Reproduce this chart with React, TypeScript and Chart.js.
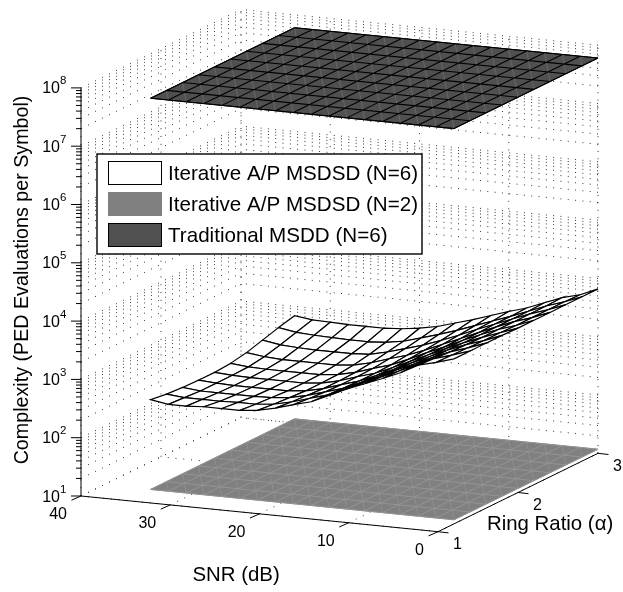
import React, { useEffect, useRef } from "react";
import { Chart, registerables } from "chart.js";

Chart.register(...registerables);

const snrValues = [0, 2, 4, 6, 8, 10, 12, 14, 16, 18, 20, 22, 24, 26, 28, 30, 32, 34];
const alphaValues = [1.2, 1.4, 1.6, 1.8, 2.0, 2.2, 2.4, 2.6, 2.8, 3.0];
const snrTicks = [0, 10, 20, 30, 40];
const alphaTicks = [1, 2, 3];
const decadeTicks = [1, 2, 3, 4, 5, 6, 7, 8];
const minorMultipliers = [2, 3, 4, 5, 6, 7, 8, 9];
const traditionalLog = 7.78;
const iterativeN2Log = 1.07;
// log10(PED evaluations per symbol), one row per ring ratio, one column per SNR
const iterativeN6Log = [
  [3.83, 3.74, 3.66, 3.5, 3.37, 3.25, 3.13, 2.99, 2.85, 2.77, 2.68, 2.61, 2.58, 2.58, 2.58, 2.56, 2.56, 2.61],
  [3.83, 3.73, 3.64, 3.5, 3.36, 3.23, 3.1, 2.96, 2.83, 2.74, 2.65, 2.58, 2.55, 2.55, 2.54, 2.54, 2.54, 2.57],
  [3.83, 3.72, 3.62, 3.49, 3.35, 3.22, 3.08, 2.94, 2.81, 2.72, 2.63, 2.56, 2.53, 2.52, 2.52, 2.52, 2.52, 2.55],
  [3.83, 3.71, 3.61, 3.49, 3.35, 3.21, 3.07, 2.93, 2.8, 2.71, 2.61, 2.54, 2.51, 2.51, 2.51, 2.51, 2.52, 2.54],
  [3.82, 3.71, 3.6, 3.48, 3.35, 3.21, 3.07, 2.93, 2.8, 2.71, 2.61, 2.54, 2.51, 2.51, 2.51, 2.51, 2.52, 2.54],
  [3.82, 3.7, 3.6, 3.48, 3.35, 3.21, 3.08, 2.94, 2.81, 2.72, 2.62, 2.55, 2.52, 2.52, 2.52, 2.52, 2.53, 2.56],
  [3.82, 3.7, 3.6, 3.48, 3.35, 3.22, 3.09, 2.96, 2.84, 2.75, 2.65, 2.58, 2.55, 2.55, 2.55, 2.55, 2.57, 2.61],
  [3.82, 3.7, 3.6, 3.48, 3.36, 3.24, 3.11, 2.99, 2.88, 2.79, 2.7, 2.63, 2.61, 2.61, 2.61, 2.62, 2.64, 2.69],
  [3.82, 3.7, 3.6, 3.48, 3.36, 3.25, 3.14, 3.03, 2.93, 2.84, 2.75, 2.7, 2.68, 2.68, 2.69, 2.7, 2.72, 2.77],
  [3.82, 3.69, 3.61, 3.49, 3.37, 3.28, 3.18, 3.08, 2.99, 2.9, 2.84, 2.8, 2.78, 2.78, 2.78, 2.79, 2.8, 2.84],
];
const legendLabels = ["Iterative A/P MSDSD (N=6)", "Iterative A/P MSDSD (N=2)", "Traditional MSDD (N=6)"];
const FONT = '"Liberation Sans", Arial, sans-serif';

type P = { x: number; y: number };
const GAP: P = { x: NaN, y: NaN };

// Orthographic view of the 3-D box (snr 40..0, alpha 1..3, log10 z 1..8)
const project = (snr: number, alpha: number, logZ: number): P => ({
  x: 81 + (40 - snr) * 8.925 + (alpha - 1) * 80,
  y: 496 + (40 - snr) * 0.8925 - (alpha - 1) * 39.2 - (logZ - 1) * 58.3,
});

const base = { showLine: true, pointRadius: 0, pointHoverRadius: 0, fill: false, tension: 0, spanGaps: false };
const lineSet = (label: string, data: P[], color: string, width: number, dash: number[] = []) => ({
  ...base, label, data, borderColor: color, borderWidth: width, borderDash: dash,
});
const polySet = (label: string, data: P[], fillColor: string, stroke: string, width: number) => ({
  ...base, label, data, fill: "shape", backgroundColor: fillColor, borderColor: stroke, borderWidth: width,
});

const allMinorLogs: number[] = [];
decadeTicks.forEach((d) => {
  allMinorLogs.push(d);
  if (d < 8) minorMultipliers.forEach((m) => allMinorLogs.push(d + Math.log10(m)));
});

function gridSets() {
  const left: P[] = [];
  const right: P[] = [];
  const floor: P[] = [];
  allMinorLogs.forEach((z) => {
    left.push(project(40, 1, z), project(40, 3, z), GAP);
    right.push(project(0, 3, z), project(40, 3, z), GAP);
  });
  alphaTicks.forEach((a) => {
    left.push(project(40, a, 1), project(40, a, 8), GAP);
    floor.push(project(0, a, 1), project(40, a, 1), GAP);
  });
  snrTicks.forEach((s) => {
    right.push(project(s, 3, 1), project(s, 3, 8), GAP);
    floor.push(project(s, 1, 1), project(s, 3, 1), GAP);
  });
  return [
    lineSet("wall snr=40", left, "#333", 1, [1, 6.8]),
    lineSet("wall alpha=3", right, "#333", 1, [1, 6.35]),
    lineSet("floor", floor, "#333", 1, [1, 6.8]),
  ];
}

function planeSets(label: string, logZ: number, fillColor: string, edge: string, meshColor: string, diagColor: string, meshWidth: number) {
  const n = snrValues.length - 1;
  const m = alphaValues.length - 1;
  const outline = [
    project(snrValues[0], alphaValues[0], logZ),
    project(snrValues[n], alphaValues[0], logZ),
    project(snrValues[n], alphaValues[m], logZ),
    project(snrValues[0], alphaValues[m], logZ),
    project(snrValues[0], alphaValues[0], logZ),
  ];
  const mesh: P[] = [];
  const diag: P[] = [];
  alphaValues.forEach((a) => mesh.push(project(snrValues[0], a, logZ), project(snrValues[n], a, logZ), GAP));
  snrValues.forEach((s) => mesh.push(project(s, alphaValues[0], logZ), project(s, alphaValues[m], logZ), GAP));
  for (let i = 0; i < n; i++) {
    for (let j = 0; j < m; j++) {
      diag.push(project(snrValues[i], alphaValues[j], logZ), project(snrValues[i + 1], alphaValues[j + 1], logZ), GAP);
    }
  }
  return [
    lineSet(label + " mesh", mesh, meshColor, meshWidth),
    lineSet(label + " seams", diag, diagColor, 1),
    polySet(label, outline, fillColor, edge, 1),
  ];
}

function surfaceSets() {
  const sets: any[] = [];
  for (let i = 0; i < snrValues.length - 1; i++) {
    for (let j = 0; j < alphaValues.length - 1; j++) {
      const cell = [
        project(snrValues[i], alphaValues[j], iterativeN6Log[j][i]),
        project(snrValues[i + 1], alphaValues[j], iterativeN6Log[j][i + 1]),
        project(snrValues[i + 1], alphaValues[j + 1], iterativeN6Log[j + 1][i + 1]),
        project(snrValues[i], alphaValues[j + 1], iterativeN6Log[j + 1][i]),
      ];
      cell.push(cell[0]);
      sets.push(polySet(legendLabels[0], cell, "#ffffff", "#000000", 1.2));
    }
  }
  return sets;
}

function axisSets() {
  const axes: P[] = [
    project(40, 1, 1), project(40, 1, 8), GAP,
    project(40, 1, 1), project(0, 1, 1), GAP,
    project(0, 1, 1), project(0, 3, 1), GAP,
  ];
  const addOffset = (p: P, dx: number, dy: number): P => ({ x: p.x + dx, y: p.y + dy });
  snrTicks.forEach((s) => {
    const p = project(s, 1, 1);
    axes.push(p, addOffset(p, -9.5, 4.2), GAP);
  });
  alphaTicks.forEach((a) => {
    const p = project(0, a, 1);
    axes.push(p, addOffset(p, 10.5, 1.2), GAP);
  });
  allMinorLogs.forEach((z) => {
    const p = project(40, 1, z);
    const major = Number.isInteger(z);
    axes.push(p, addOffset(p, major ? -10 : -5, 0), GAP);
  });
  return [lineSet("axes", axes, "#000", 1)];
}

const textPlugin = {
  id: "boxText",
  afterDatasetsDraw(chart: any) {
    const { ctx, scales } = chart;
    const px = (p: P) => ({ x: scales.x.getPixelForValue(p.x), y: scales.y.getPixelForValue(p.y) });
    ctx.save();
    ctx.fillStyle = "#000";
    ctx.textBaseline = "alphabetic";

    ctx.font = `16px ${FONT}`;
    ctx.textAlign = "right";
    snrTicks.forEach((s) => {
      const p = px(project(s, 1, 1));
      ctx.fillText(String(s), p.x - 14, p.y + 23);
    });
    ctx.textAlign = "left";
    alphaTicks.forEach((a) => {
      const p = px(project(0, a, 1));
      ctx.fillText(String(a), p.x + 15, p.y + 17.5);
    });
    decadeTicks.forEach((d) => {
      const p = px(project(40, 1, d));
      ctx.font = `16px ${FONT}`;
      ctx.textAlign = "right";
      ctx.fillText("10", p.x - 21, p.y + 5.5);
      ctx.font = `11.5px ${FONT}`;
      ctx.textAlign = "left";
      ctx.fillText(String(d), p.x - 21, p.y - 3.5);
    });

    ctx.font = `20.4px ${FONT}`;
    ctx.textAlign = "left";
    ctx.fillText("SNR (dB)", 192.5, 581);
    ctx.fillText("Ring Ratio (\u03B1)", 487, 530);
    ctx.save();
    ctx.translate(28, 280);
    ctx.rotate(-Math.PI / 2);
    ctx.textAlign = "center";
    ctx.font = `19.7px ${FONT}`;
    ctx.fillText("Complexity (PED Evaluations per Symbol)", 0, 0);
    ctx.restore();

    // Legend
    ctx.fillStyle = "#fff";
    ctx.fillRect(97, 154, 325, 100);
    ctx.strokeStyle = "#000";
    ctx.lineWidth = 1.4;
    ctx.strokeRect(97, 154, 325, 100);
    const swatches = [
      { fill: "#ffffff", stroke: "#000000", y: 161 },
      { fill: "#808080", stroke: "#808080", y: 192 },
      { fill: "#505050", stroke: "#000000", y: 223 },
    ];
    swatches.forEach((sw, i) => {
      ctx.fillStyle = sw.fill;
      ctx.fillRect(108, sw.y, 54, 24);
      ctx.strokeStyle = sw.stroke;
      ctx.lineWidth = 1;
      ctx.strokeRect(108.5, sw.y + 0.5, 53, 23);
      ctx.fillStyle = "#000";
      ctx.font = `20.6px ${FONT}`;
      ctx.fillText(legendLabels[i], 168, sw.y + 19);
    });
    ctx.restore();
  },
};

export default function App() {
  const ref = useRef<HTMLCanvasElement | null>(null);
  useEffect(() => {
    if (!ref.current) return;
    // Later datasets are painted first, so the list runs front to back.
    const datasets = [
      ...axisSets(),
      ...planeSets(legendLabels[2], traditionalLog, "#505050", "#000000", "#000000", "#666666", 1.1),
      ...surfaceSets(),
      ...planeSets(legendLabels[1], iterativeN2Log, "#808080", "#808080", "#989898", "#8e8e8e", 0.8),
      ...gridSets(),
    ];
    const chart = new Chart(ref.current, {
      type: "scatter",
      data: { datasets } as any,
      plugins: [textPlugin],
      options: {
        animation: false,
        responsive: false,
        events: [],
        layout: { padding: 0 },
        clip: false,
        plugins: { legend: { display: false }, tooltip: { enabled: false }, title: { display: false } },
        scales: {
          x: { type: "linear", display: false, min: 0, max: 623 },
          y: { type: "linear", display: false, min: 0, max: 592, reverse: true },
        },
      } as any,
    });
    return () => chart.destroy();
  }, []);
  return (
    <canvas
      ref={ref}
      width={623}
      height={592}
      style={{ position: "fixed", left: 0, top: 0, width: 623, height: 592, background: "#fff" }}
    />
  );
}
